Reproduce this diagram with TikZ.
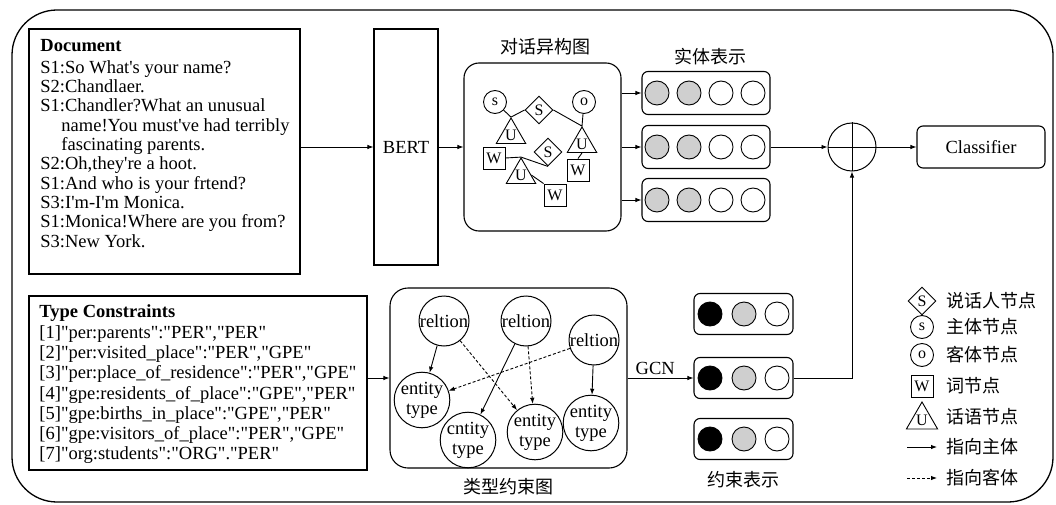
\documentclass[tikz,border=0pt]{standalone}
\usepackage{fontspec}
\setmainfont{Liberation Serif}
\newfontfamily\tnr{Liberation Serif}
\newfontfamily\cjk{Noto Sans CJK SC}
\usetikzlibrary{shapes.geometric,arrows.meta}

\tikzset{
  box/.style={draw, line width=1.1pt},
  rbox/.style={draw, line width=1.1pt, rounded corners=6pt},
  txt/.style={font=\tnr\fontsize{18.5}{19.3}\selectfont},
  dot/.style={draw, circle, line width=0.9pt, minimum size=24pt, inner sep=0pt},
  gnode/.style={draw, circle, line width=1pt, minimum size=50pt, inner sep=0pt, align=center, font=\tnr\fontsize{18.5}{20}\selectfont},
  hcirc/.style={draw, circle, line width=0.9pt, minimum size=23pt, inner sep=0pt, font=\tnr\fontsize{16}{16}\selectfont},
  hdia/.style={draw, diamond, line width=0.9pt, minimum size=28pt, inner sep=0pt, font=\tnr\fontsize{16}{16}\selectfont},
  htri/.style={draw, regular polygon, regular polygon sides=3, line width=0.9pt, minimum size=34pt, inner sep=0pt, font=\tnr\fontsize{16}{16}\selectfont},
  hsq/.style={draw, rectangle, line width=0.9pt, minimum size=22pt, inner sep=0pt, font=\tnr\fontsize{16}{16}\selectfont},
  cjklabel/.style={font=\cjk\fontsize{18}{20}\selectfont},
}

\begin{document}
\begin{tikzpicture}[x=1pt, y=-1pt, line width=0.9pt, >={Latex[length=6pt,width=4.5pt]}]
        \useasboundingbox (0,0) rectangle (1056,505);
        % 外框
        \draw[line width=1.3pt, rounded corners=45pt] (12,10) rectangle (1053,502);

        % 文档
        \node[box, minimum width=271pt, minimum height=245pt] (doc) at (164.5,151.5) {};
        \node[txt, anchor=north west, align=left, inner sep=0pt] (doctext) at (40,39) {\textbf{Document}\\[2.5pt]
          S1:So What's your name?\\
          S2:Chandlaer.\\
          S1:Chandler?What an unusual\\
          \hspace*{21pt}name!You must've had terribly\\
          \hspace*{21pt}fascinating parents.\\
          S2:Oh,they're a hoot.\\
          S1:And who is your frtend?\\
          S3:I'm-I'm Monica.\\
          S1:Monica!Where are you from?\\
          S3:New York.};

        % BERT
        \node[box, txt, minimum width=64pt, minimum height=236pt] (bert) at (406,147) {BERT};
        \draw[->] (doc.east |- bert.west) -- (bert.west);

        % 对话异构图
        \node[box, rounded corners=15pt, minimum width=157pt, minimum height=168pt] (het) at (542.5,147) {};
        \node[cjklabel] (hetlabel) at (545,47) {对话异构图};
        \draw[->] (bert.east) -- (het.west);
        \node[hcirc] (hs) at (495,102) {s};
        \node[hcirc] (ho) at (584,102) {o};
        \node[hdia] (hS1) at (539,110) {S};
        \node[hdia] (hS2) at (548,152) {S};
        \node[htri] (hU1) at (511,135) {U};
        \node[htri] (hU2) at (582,144) {U};
        \node[htri] (hU3) at (521,175) {U};
        \node[hsq] (hW1) at (494,158) {W};
        \node[hsq] (hW2) at (578,170) {W};
        \node[hsq] (hW3) at (555,195) {W};
        \draw (hs) -- (hU1.corner 1) -- (hS1.west);
        \draw (hS1.east) -- (hU2.corner 1) -- (ho);
        \draw (hU2.south) -- (hW2.north);
        \draw (hW1.east) -- (hU3.corner 1) -- (hS2.south);
        \draw (hU3.east) -- (hW3.north west);

        % 实体表示
        \foreach \i/\y in {1/93,2/147,3/200} {
          \node[rbox, minimum width=128pt, minimum height=43pt] (ent\i) at (706,\y) {};
          \node[dot, fill=black!19] (ent\i-1) at (657,\y) {};
          \node[dot, fill=black!19] (ent\i-2) at (689,\y) {};
          \node[dot] (ent\i-3) at (721,\y) {};
          \node[dot] (ent\i-4) at (753,\y) {};
          \draw[->] (het.east |- ent\i.west) -- (ent\i.west);
        }
        \node[cjklabel] (entlabel) at (710,57) {实体表示};

        % 拼接与分类
        \node[draw, circle, line width=1pt, minimum size=48pt] (cat) at (852,147) {};
        \draw (cat.north) -- (cat.south) (cat.west) -- (cat.east);
        \draw[->] (ent2.east) -- (cat.west);
        \node[rbox, txt, minimum width=128pt, minimum height=42pt] (cls) at (981,147) {Classifier};
        \draw[->] (cat.east) -- (cls.west);

        % 类型约束
        \node[box, minimum width=338pt, minimum height=174pt] (tc) at (198,383) {};
        \node[anchor=north west, align=left, inner sep=0pt, font=\tnr\fontsize{18.5}{20.2}\selectfont] (tctext) at (39,304) {\textbf{Type Constraints}\\[1pt]
          {[}1{]}"per:parents":"PER","PER"\\
          {[}2{]}"per:visited\_place":"PER","GPE"\\
          {[}3{]}"per:place\_of\_residence":"PER","GPE"\\
          {[}4{]}"gpe:residents\_of\_place":"GPE","PER"\\
          {[}5{]}"gpe:births\_in\_place":"GPE","PER"\\
          {[}6{]}"gpe:visitors\_of\_place":"PER","GPE"\\
          {[}7{]}"org:students":"ORG"."PER"};

        % 类型约束图
        \node[box, rounded corners=18pt, minimum width=237pt, minimum height=180pt] (tg) at (508.5,378) {};
        \node[cjklabel] (tglabel) at (508,487) {类型约束图};
        \draw[->] (tc.east |- tg.west) -- (tg.west);
        \node[gnode] (r1) at (444,321) {reltion};
        \node[gnode] (r2) at (526,321) {reltion};
        \node[gnode] (r3) at (594,340) {reltion};
        \node[gnode] (t1) at (422,400) {entity\\type};
        \node[gnode] (t2) at (468,440) {cntity\\type};
        \node[gnode] (t3) at (535,432) {entity\\type};
        \node[gnode] (t4) at (591,423) {entity\\type};
        \draw[->] (r1) -- (t1);
        \draw[->, densely dashed] (r1) -- (t3);
        \draw[->] (r2) -- (t2);
        \draw[->, densely dashed] (r2) -- (t3);
        \draw[->, densely dashed] (r3) -- (t1);
        \draw[->] (r3) -- (t4);

        % 约束表示
        \foreach \i/\y in {1/314,2/378,3/439} {
          \node[rbox, minimum width=99pt, minimum height=41pt] (con\i) at (743.5,\y) {};
          \node[dot, fill=black] (con\i-1) at (710,\y) {};
          \node[dot, fill=black!19] (con\i-2) at (744,\y) {};
          \node[dot] (con\i-3) at (777,\y) {};
        }
        \node[cjklabel] (conlabel) at (743,480) {约束表示};
        \draw[->] (tg.east |- con2.west) -- node[txt, above, pos=0.42] {GCN} (con2.west);
        \draw[->] (con2.east) -| (cat.south);

        % 图例
        \node[hdia] (lgS) at (922,301) {S};
        \node[hcirc] (lgs) at (922,327) {s};
        \node[hcirc] (lgo) at (922,355) {o};
        \node[hsq] (lgW) at (922,386) {W};
        \node[htri, minimum size=36pt] (lgU) at (922,420) {U};
        \coordinate (lga1) at (907,447);
        \coordinate (lga2) at (937,447);
        \coordinate (lgb1) at (907,478);
        \coordinate (lgb2) at (937,478);
        \draw[->] (lga1) -- (lga2);
        \draw[->, densely dashed] (lgb1) -- (lgb2);
        \node[cjklabel, anchor=west] (lgtS) at (943,301) {说话人节点};
        \node[cjklabel, anchor=west] (lgts) at (943,327) {主体节点};
        \node[cjklabel, anchor=west] (lgto) at (943,355) {客体节点};
        \node[cjklabel, anchor=west] (lgtW) at (943,386) {词节点};
        \node[cjklabel, anchor=west] (lgtU) at (943,417) {话语节点};
        \node[cjklabel, anchor=west] (lgta) at (943,447) {指向主体};
        \node[cjklabel, anchor=west] (lgtb) at (943,478) {指向客体};
\end{tikzpicture}
\end{document}
